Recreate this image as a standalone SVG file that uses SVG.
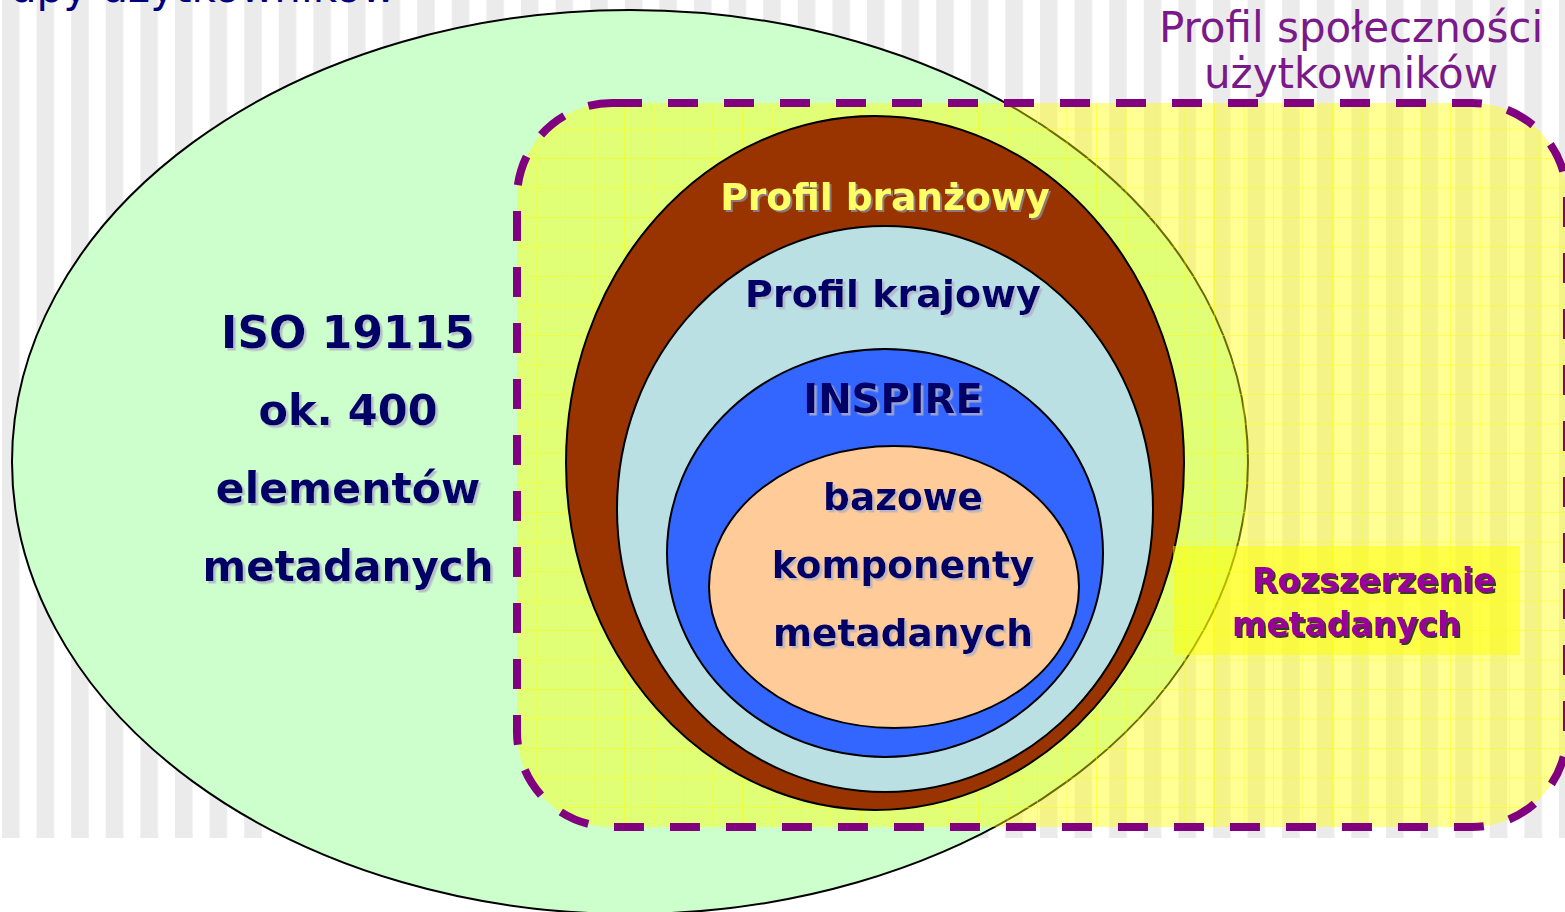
<svg xmlns="http://www.w3.org/2000/svg" width="1565" height="912" viewBox="0 0 1565 912">
<defs>
<pattern id="stripes" patternUnits="userSpaceOnUse" x="2" y="0" width="34.6" height="29.5">
<rect x="0" y="0" width="17.5" height="29.5" fill="#ebebeb"/>
</pattern>
<pattern id="grid" patternUnits="userSpaceOnUse" x="4.5" y="10.5" width="29.5" height="29.5">
<rect x="0" y="0" width="1" height="29.5" fill="#ffff00" opacity="0.45"/>
<rect x="0" y="0" width="29.5" height="1" fill="#ffff00" opacity="0.45"/>
</pattern>
<filter id="shGray" x="-10%" y="-30%" width="120%" height="160%">
<feDropShadow dx="2" dy="2" stdDeviation="0.4" flood-color="#8a8a9a" flood-opacity="0.8"/>
</filter>
<filter id="shLight" x="-10%" y="-30%" width="120%" height="160%">
<feDropShadow dx="2.5" dy="2.5" stdDeviation="0.5" flood-color="#b0b0c8" flood-opacity="0.8"/>
</filter>
<filter id="shDark" x="-10%" y="-30%" width="120%" height="160%">
<feDropShadow dx="2" dy="2" stdDeviation="0.3" flood-color="#222222" flood-opacity="0.9"/>
</filter>
</defs>
<style>
.ell{stroke:#000000;stroke-width:2}
.b{font-family:"DejaVu Sans",Verdana,sans-serif;font-weight:bold;text-anchor:middle}
.navy{fill:#000066;filter:url(#shLight)}
.r{font-family:"DejaVu Sans",Verdana,sans-serif;font-size:42px}
</style>
<rect x="0" y="0" width="1565" height="912" fill="#ffffff"/>
<g id="background">
<rect x="0" y="0" width="1565" height="838" fill="url(#stripes)"/>
<rect x="0" y="835" width="1565" height="3" fill="url(#stripes)" opacity="0.6"/>
</g>
<text x="10" y="2" class="r" fill="#000080" font-size="41">upy użytkowników</text>
<g id="iso">
<ellipse class="ell" cx="630" cy="462" rx="618" ry="452" fill="#ccffcc"/>
</g>
<g id="profil-spolecznosci">
<rect x="517" y="103" width="1050" height="724" rx="95" fill="#ffff00" fill-opacity="0.42"/>
<rect x="517" y="103" width="1050" height="724" rx="95" fill="url(#grid)"/>
<rect x="517" y="103" width="1050" height="724" rx="95" fill="none" stroke="#800080" stroke-width="8" stroke-dasharray="30 26"/>
<text x="1351" y="42" class="r" fill="#7a1a8a" text-anchor="middle">Profil społeczności</text>
<text x="1351" y="88" class="r" fill="#7a1a8a" text-anchor="middle">użytkowników</text>
</g>
<g id="profil-branzowy">
<ellipse class="ell" cx="875" cy="463" rx="309" ry="347" fill="#993300"/>
<text x="885" y="210" class="b" font-size="37.5" fill="#ffff66" filter="url(#shGray)">Profil branżowy</text>
</g>
<g id="profil-krajowy">
<ellipse class="ell" cx="885" cy="509" rx="268" ry="283" fill="#bbe0e3"/>
<text x="893" y="307" class="b navy" font-size="38">Profil krajowy</text>
</g>
<g id="inspire">
<ellipse class="ell" cx="885" cy="553" rx="218" ry="204" fill="#3366ff"/>
<text x="893" y="413" class="b navy" font-size="40">INSPIRE</text>
</g>
<g id="bazowe">
<ellipse class="ell" cx="894" cy="587" rx="185" ry="141" fill="#ffcc99"/>
<text x="903" y="510" class="b navy" font-size="37.5">bazowe</text>
<text x="903" y="578" class="b navy" font-size="37.5">komponenty</text>
<text x="903" y="646" class="b navy" font-size="37.5">metadanych</text>
</g>
<g id="iso-label">
<text x="348" y="348" class="b navy" font-size="44">ISO 19115</text>
<text x="348" y="425" class="b navy" font-size="43">ok. 400</text>
<text x="348" y="503" class="b navy" font-size="42.5">elementów</text>
<text x="348" y="581" class="b navy" font-size="42">metadanych</text>
</g>
<g id="rozszerzenie">
<rect x="1173" y="546" width="347" height="109" fill="#ffff00" fill-opacity="0.5"/>
<text x="1252" y="592" font-family="DejaVu Sans, Verdana, sans-serif" font-weight="bold" font-size="33" fill="#990099" filter="url(#shDark)">Rozszerzenie</text>
<text x="1232" y="636" font-family="DejaVu Sans, Verdana, sans-serif" font-weight="bold" font-size="33" fill="#990099" filter="url(#shDark)">metadanych</text>
</g>
<g id="connectors"></g>
</svg>
